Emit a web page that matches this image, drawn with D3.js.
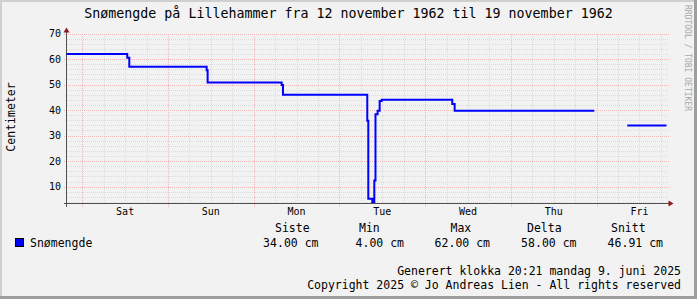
<!DOCTYPE html>
<meta charset="utf-8">
<script src="https://cdn.jsdelivr.net/npm/d3@7/dist/d3.min.js"></script>
<style>
  body { margin: 0; background: #f2f2f2; }
  text { font-family: "DejaVu Sans Mono", monospace; fill: #000; }
</style>
<body>
<script>

// snow depth, step series (value holds until next time, null = no data)
var times = ["1962-11-16T19:35", "1962-11-17T12:36", "1962-11-17T13:10", "1962-11-18T10:50",
             "1962-11-18T11:06", "1962-11-19T07:50", "1962-11-19T08:12", "1962-11-20T07:48",
             "1962-11-20T08:05", "1962-11-20T09:12", "1962-11-20T09:46", "1962-11-20T10:06",
             "1962-11-20T10:42", "1962-11-20T11:16", "1962-11-20T11:50", "1962-11-21T07:36",
             "1962-11-21T08:16", "1962-11-22T23:22", "1962-11-23T08:36"]
var values = [62, 60.5, 57, 55.6, 50.8, 49.8, 46, 35.8, 5.3, 4, 12.4, 38.4, 39.7, 43.6, 44, 42.4, 39.7, null, 34]
var endTime = "1962-11-23T19:35"

var yTicks = [10, 20, 30, 40, 50, 60, 70]
var statHeads = ["Siste", "Min", "Max", "Delta", "Snitt"]
var statValues = ["34.00 cm", "4.00 cm", "62.00 cm", "58.00 cm", "46.91 cm"]

var title = "Snømengde på Lillehammer fra 12 november 1962 til 19 november 1962"
var footer = ["Generert klokka 20:21 mandag 9. juni 2025",
              "Copyright 2025 © Jo Andreas Lien - All rights reserved"]

var width = 697
var height = 299
var plotL = 66.5, plotR = 666.5, plotT = 33.5, plotB = 203.5

var parse = d3.utcParse("%Y-%m-%dT%H:%M")

var x = d3.scaleUtc().domain([parse(times[0]), parse(endTime)]).range([plotL, plotR])
var y = d3.scaleLinear().domain([3.4, 70]).range([plotB, plotT])

var svg = d3.select("body").append("svg")
    .attr("width", width)
    .attr("height", height)
    .style("display", "block")

// frame
svg.append("rect").attr("width", width).attr("height", height).attr("fill", "#f2f2f2")
svg.append("rect").attr("x", 0).attr("y", 0).attr("width", width).attr("height", 2).attr("fill", "#cfcfcf")
svg.append("rect").attr("x", 0).attr("y", 0).attr("width", 2).attr("height", height).attr("fill", "#cfcfcf")
svg.append("rect").attr("x", 0).attr("y", height - 3).attr("width", width).attr("height", 3).attr("fill", "#9e9e9e")
svg.append("rect").attr("x", width - 3).attr("y", 0).attr("width", 3).attr("height", height).attr("fill", "#9e9e9e")

// grid
var minorCol = "#dcdcdc", majorCol = "#f2b8b8"
var grid = svg.append("g").attr("stroke-dasharray", "1,1").attr("shape-rendering", "crispEdges")
var minorY = d3.range(4, 71, 2).filter(d => d % 10 != 0)
grid.selectAll(".hmin").data(minorY).enter().append("line")
    .attr("x1", plotL).attr("x2", plotR + 2)
    .attr("y1", d => Math.round(y(d)) + 0.5).attr("y2", d => Math.round(y(d)) + 0.5)
    .attr("stroke", minorCol)
var sixHours = d3.utcHour.every(6).range(x.domain()[0], x.domain()[1]).filter(d => d.getUTCHours() != 0)
var days = d3.utcDay.range(x.domain()[0], x.domain()[1])
grid.selectAll(".vmin").data(sixHours).enter().append("line")
    .attr("x1", d => Math.round(x(d)) + 0.5).attr("x2", d => Math.round(x(d)) + 0.5)
    .attr("y1", plotT).attr("y2", plotB)
    .attr("stroke", minorCol)
grid.selectAll(".hmaj").data(yTicks).enter().append("line")
    .attr("x1", plotL - 3).attr("x2", plotR + 2)
    .attr("y1", d => Math.round(y(d)) + 0.5).attr("y2", d => Math.round(y(d)) + 0.5)
    .attr("stroke", majorCol)
grid.selectAll(".vmaj").data(days).enter().append("line")
    .attr("x1", d => Math.round(x(d)) + 0.5).attr("x2", d => Math.round(x(d)) + 0.5)
    .attr("y1", plotT).attr("y2", plotB + 3)
    .attr("stroke", majorCol)

// axes
var axis = svg.append("g").attr("shape-rendering", "crispEdges")
axis.append("line").attr("x1", plotL - 3).attr("x2", plotR + 3).attr("y1", plotB).attr("y2", plotB).attr("stroke", "#505050")
axis.append("line").attr("x1", plotL).attr("x2", plotL).attr("y1", plotB + 3).attr("y2", plotT - 2).attr("stroke", "#505050")
svg.append("path").attr("d", "M" + (plotL - 3) + "," + (plotT - 1) + "L" + plotL + "," + (plotT - 6) + "L" + (plotL + 3) + "," + (plotT - 1) + "Z").attr("fill", "#8b1a1a")
svg.append("path").attr("d", "M" + (plotR + 2) + "," + (plotB - 3) + "L" + (plotR + 7) + "," + plotB + "L" + (plotR + 2) + "," + (plotB + 3) + "Z").attr("fill", "#8b1a1a")

svg.append("g").selectAll("text").data(yTicks).enter().append("text")
    .attr("x", 61).attr("y", d => y(d) + 3.5)
    .attr("text-anchor", "end").style("font-size", "10px")
    .text(d => d)

var noons = days.map(d => d3.utcHour.offset(d, 12)).filter(d => d < x.domain()[1])
svg.append("g").selectAll("text").data(noons).enter().append("text")
    .attr("x", d => x(d)).attr("y", 215)
    .attr("text-anchor", "middle").style("font-size", "10px")
    .text(d => d3.utcFormat("%a")(d))

// series
var pts = []
times.forEach(function(t, i) {
  if (values[i] == null) { pts.push({ t: parse(t), v: null }); return }
  pts.push({ t: parse(t), v: values[i] })
  var next = i + 1 < times.length ? times[i + 1] : endTime
  pts.push({ t: parse(next), v: values[i] })
})
var line = d3.line().defined(d => d.v != null).x(d => x(d.t)).y(d => y(d.v)).curve(d3.curveStepAfter)
svg.append("path").attr("d", line(pts))
    .attr("fill", "none").attr("stroke", "#0000ff").attr("stroke-width", 2)
    .attr("stroke-linejoin", "miter")

// titles
svg.append("text").attr("x", width / 2).attr("y", 18).attr("text-anchor", "middle")
    .style("font-size", "13.3px").text(title)
svg.append("text").attr("transform", "translate(15,117) rotate(-90)").attr("text-anchor", "middle")
    .style("font-size", "11.5px").text("Centimeter")
svg.append("text").attr("transform", "translate(685,5) rotate(90)").attr("text-anchor", "start")
    .style("font-size", "8px").style("fill", "#a8a8a8").text("RRDTOOL / TOBI OETIKER")

// legend
svg.append("rect").attr("x", 15.5).attr("y", 238.5).attr("width", 8).attr("height", 8)
    .attr("fill", "#0000ff").attr("stroke", "#000").attr("stroke-width", 1)
svg.append("text").attr("x", 30).attr("y", 247).style("font-size", "11.5px").text("Snømengde")

var headX = [275, 359, 450.5, 527, 611]
var valX = [318.5, 404, 490, 576.5, 663]
svg.append("g").selectAll("text").data(statHeads).enter().append("text")
    .attr("x", (d, i) => headX[i]).attr("y", 232).style("font-size", "11.5px").text(d => d)
svg.append("g").selectAll("text").data(statValues).enter().append("text")
    .attr("x", (d, i) => valX[i]).attr("y", 247).attr("text-anchor", "end").style("font-size", "11.5px").text(d => d)

svg.append("g").selectAll("text").data(footer).enter().append("text")
    .attr("x", 681).attr("y", (d, i) => 275 + i * 13.5).attr("text-anchor", "end")
    .style("font-size", "11.5px").text(d => d)

</script>
</body>
